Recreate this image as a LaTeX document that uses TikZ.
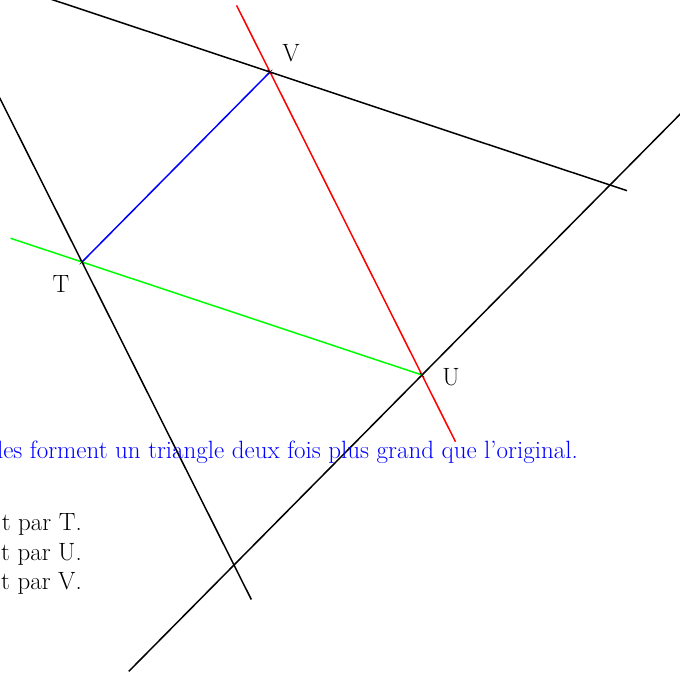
\documentclass[tikz,border=0pt]{standalone}
\usetikzlibrary{calc,shapes.misc}
\begin{document}
\begin{tikzpicture}[
  x=1pt, y=-1pt,
  every node/.style={font=\fontsize{25}{30}\selectfont, inner sep=0pt},
  side/.style={draw=black, line width=1.5pt},
  ptmark/.style={draw=black, cross out, minimum size=4pt, line width=0.6pt}
  ]
\useasboundingbox (0,0) rectangle (680,673);
\clip (0,0) rectangle (680,673);

% small triangle
\coordinate (T) at (82,262);
\coordinate (U) at (422,375);
\coordinate (V) at (270,72);

% big triangle
\coordinate (A) at ($(T)+(V)-(U)$);
\coordinate (B) at ($(V)+(U)-(T)$);
\coordinate (C) at ($(T)+(U)-(V)$);

\draw[side] (A) -- ($(A)!1.025!(B)$);
\draw[side] (A) -- ($(A)!1.057!(C)$);
\draw[side] ($(C)!-0.28!(B)$) -- ($(B)!-0.28!(C)$);

\draw[red, line width=1.5pt] ($(V)!-0.22!(U)$) -- ($(U)!-0.22!(V)$);
\draw[green, line width=1.5pt] ($(T)!-0.21!(U)$) -- (U);
\draw[blue, line width=1.5pt] (T) -- (V);

\node[ptmark] (mT) at (T) {};
\node[ptmark] (mU) at (U) {};
\node[ptmark] (mV) at (V) {};

\node (lV) at (291,53) {V};
\node (lT) at (61,284) {T};
\node (lU) at (451,377) {U};

% texts
\node[anchor=base east, text=blue] (note) at (578,458) {les forment un triangle deux fois plus grand que l'original.};
\node[anchor=base east] (parT) at (82,530) {t par T.};
\node[anchor=base east] (parU) at (82,560) {t par U.};
\node[anchor=base east] (parV) at (82,589) {t par V.};
\end{tikzpicture}
\end{document}
